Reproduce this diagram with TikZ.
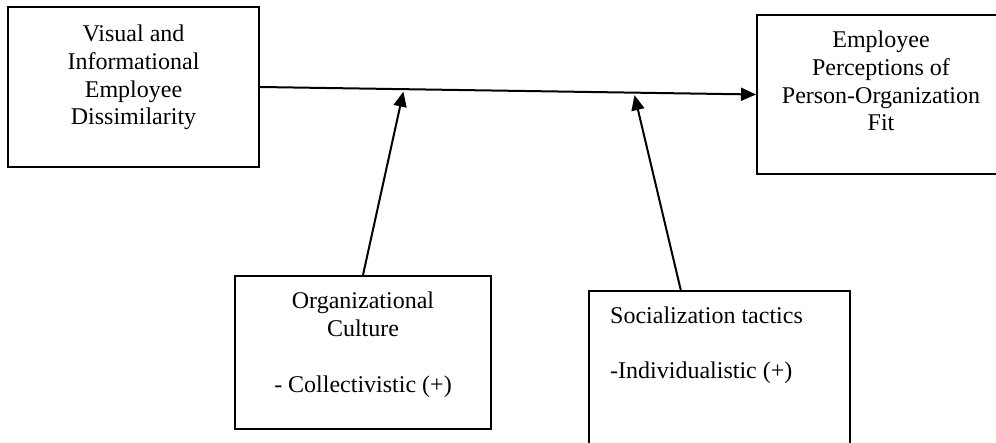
\documentclass[tikz,border=0pt]{standalone}
\usepackage{fontspec}
\setmainfont{Liberation Serif}
\usetikzlibrary{arrows.meta,calc}
\tikzset{
  box/.style={draw, line width=2pt, rectangle, inner sep=0pt},
  label/.style={inner sep=0pt, font=\fontsize{24}{27.7}\selectfont},
  conn/.style={line width=2pt, -{Triangle[length=15pt,width=13pt]}}
}
\begin{document}
\begin{tikzpicture}[x=1pt,y=-1pt]
\useasboundingbox (0,0) rectangle (996,443);
\begin{scope}
\clip (0,0) rectangle (996,443);
\node[box, minimum width=251pt, minimum height=160pt] (lbox) at (133.5,87) {};
\node[box, minimum width=248pt, minimum height=159pt] (rbox) at (881,94.5) {};
\node[box, minimum width=256pt, minimum height=153pt] (mbox) at (363,352.5) {};
\node[box, minimum width=261pt, minimum height=168pt] (sbox) at (719.5,375) {};

\node[label, align=center, anchor=base] (ltext) at (133.5,125) {Visual and\\Informational\\Employee\\Dissimilarity};
\node[label, align=center, anchor=base] (rtext) at (881,131) {Employee\\Perceptions of\\Person-Organization\\Fit};
\node[label, align=center, anchor=base] (mtext) at (363,392) {Organizational\\Culture\\~\\- Collectivistic (+)};
\node[label, align=left, anchor=base west] (stext) at (610,379) {Socialization tactics\\~\\-Individualistic (+)};

\draw[conn] (lbox.east) -- (rbox.west);
\coordinate (t1) at ($(lbox.east)!0.289!(rbox.west)+(0,2.5)$);
\coordinate (t2) at ($(lbox.east)!0.755!(rbox.west)+(0,2.5)$);
\coordinate (s2) at (681,291);
\draw[conn] (mbox.north) -- (t1);
\draw[conn] (s2) -- (t2);
\end{scope}
\end{tikzpicture}
\end{document}
